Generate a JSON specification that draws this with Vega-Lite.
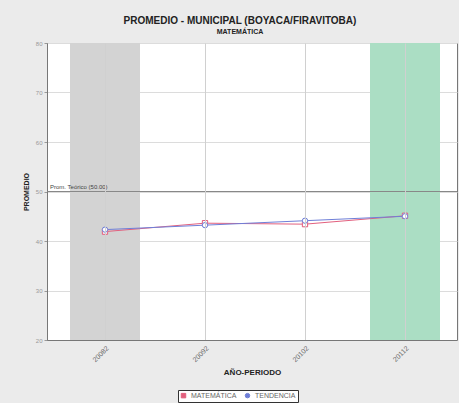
{
  "$schema": "https://vega.github.io/schema/vega-lite/v6.json",
  "width": 410,
  "height": 297,
  "autosize": {"type": "none"},
  "padding": {"left": 47, "top": 43, "right": 2, "bottom": 63},
  "background": "#ebebeb",
  "config": {
    "font": "Liberation Sans",
    "view": {"stroke": "#777", "strokeWidth": 1, "fill": "white"},
    "axisY": {
      "title": "PROMEDIO",
      "titleFontSize": 7,
      "titleFontWeight": "bold",
      "titleColor": "#222",
      "titlePadding": 6,
      "tickCount": 12,
      "labelOverlap": false,
      "labelFontSize": 6,
      "labelColor": "#999",
      "gridColor": "#dcdcdc",
      "domainColor": "#777",
      "tickColor": "#999",
      "tickSize": 3
    }
  },
  "title": {
    "text": "PROMEDIO - MUNICIPAL (BOYACA/FIRAVITOBA)",
    "subtitle": "MATEMÁTICA",
    "anchor": "middle",
    "frame": "group",
    "dx": -12,
    "fontSize": 10,
    "fontWeight": "bold",
    "color": "#222",
    "subtitleFontSize": 7,
    "subtitleFontWeight": "bold",
    "subtitleColor": "#222",
    "subtitlePadding": 2,
    "offset": 5
  },
  "datasets": {
    "bandas": [
      {"periodo": "20082", "desde": 20, "hasta": 80},
      {"periodo": "20112", "desde": 20, "hasta": 80}
    ],
    "serie": [
      {"periodo": "20082", "serie": "MATEMÁTICA", "valor": 41.9},
      {"periodo": "20092", "serie": "MATEMÁTICA", "valor": 43.6},
      {"periodo": "20102", "serie": "MATEMÁTICA", "valor": 43.4},
      {"periodo": "20112", "serie": "MATEMÁTICA", "valor": 45.1},
      {"periodo": "20082", "serie": "TENDENCIA", "valor": 42.3},
      {"periodo": "20092", "serie": "TENDENCIA", "valor": 43.2},
      {"periodo": "20102", "serie": "TENDENCIA", "valor": 44.1},
      {"periodo": "20112", "serie": "TENDENCIA", "valor": 45.0}
    ],
    "umbral": [
      {"periodo": "20082", "valor": 50, "etiqueta": "Prom. Teórico (50.00)"}
    ]
  },
  "layer": [
    {
      "data": {"name": "bandas"},
      "mark": {"type": "rect"},
      "encoding": {
        "x": {
          "field": "periodo", "type": "nominal",
          "sort": ["20082", "20092", "20102", "20112"],
          "scale": {"type": "band", "domain": ["20082", "20092", "20102", "20112"], "paddingInner": 0.3, "paddingOuter": 0.2, "align": 0.575},
          "axis": {
            "title": "AÑO-PERIODO",
            "titleFontSize": 8,
            "titleFontWeight": "bold",
            "titleColor": "#222",
            "titlePadding": 6,
            "labelAngle": -45,
            "labelFontSize": 7,
            "labelColor": "#666",
            "grid": true,
            "bandPosition": 0.5,
            "gridColor": "#d0d0d0",
            "domainColor": "#777",
            "ticks": false,
            "labelPadding": 4
          }
        },
        "y": {
          "field": "desde", "type": "quantitative",
          "scale": {"domain": [20, 80], "nice": false, "zero": false},
          "axis": {"title": "PROMEDIO", "values": [20, 25, 30, 35, 40, 45, 50, 55, 60, 65, 70, 75, 80]}
        },
        "y2": {"field": "hasta"},
        "fill": {
          "field": "periodo", "type": "nominal",
          "scale": {"domain": ["20082", "20112"], "range": ["#d3d3d3", "#abdec4"]},
          "legend": null
        }
      }
    },
    {
      "data": {"name": "umbral"},
      "mark": {"type": "rule", "color": "#888", "strokeWidth": 1},
      "encoding": {
        "y": {"field": "valor", "type": "quantitative", "axis": {"title": "PROMEDIO", "values": [20, 25, 30, 35, 40, 45, 50, 55, 60, 65, 70, 75, 80]}}
      }
    },
    {
      "data": {"name": "umbral"},
      "mark": {"type": "text", "align": "left", "baseline": "bottom", "dx": -20, "dy": -2, "fontSize": 6, "color": "#444"},
      "encoding": {
        "x": {"field": "periodo", "type": "nominal", "bandPosition": 0},
        "y": {"field": "valor", "type": "quantitative", "axis": {"title": "PROMEDIO", "values": [20, 25, 30, 35, 40, 45, 50, 55, 60, 65, 70, 75, 80]}},
        "text": {"field": "etiqueta"}
      }
    },
    {
      "data": {"name": "serie"},
      "mark": {"type": "line", "strokeWidth": 1},
      "encoding": {
        "x": {"field": "periodo", "type": "nominal"},
        "y": {"field": "valor", "type": "quantitative", "axis": {"title": "PROMEDIO", "values": [20, 25, 30, 35, 40, 45, 50, 55, 60, 65, 70, 75, 80]}},
        "color": {
          "field": "serie", "type": "nominal",
          "scale": {"domain": ["MATEMÁTICA", "TENDENCIA"], "range": ["#e2607e", "#6f7fd8"]},
          "legend": {
            "title": null,
            "orient": "none",
            "direction": "horizontal",
            "legendX": 131,
            "legendY": 347,
            "strokeColor": "#333",
            "fillColor": "white",
            "padding": 2,
            "labelFontSize": 7,
            "labelColor": "#666",
            "symbolSize": 20,
            "symbolStrokeWidth": 1,
            "columnPadding": 6,
            "encode": {"symbols": {"update": {"fill": {"value": "white"}}}}
          }
        },
        "shape": {
          "field": "serie", "type": "nominal",
          "scale": {"domain": ["MATEMÁTICA", "TENDENCIA"], "range": ["square", "circle"]}
        }
      }
    },
    {
      "data": {"name": "serie"},
      "mark": {"type": "point", "filled": false, "fill": "white", "fillOpacity": 1, "size": 28, "strokeWidth": 1},
      "encoding": {
        "x": {"field": "periodo", "type": "nominal"},
        "y": {"field": "valor", "type": "quantitative", "axis": {"title": "PROMEDIO", "values": [20, 25, 30, 35, 40, 45, 50, 55, 60, 65, 70, 75, 80]}},
        "color": {"field": "serie", "type": "nominal"},
        "shape": {"field": "serie", "type": "nominal"}
      }
    }
  ]
}
